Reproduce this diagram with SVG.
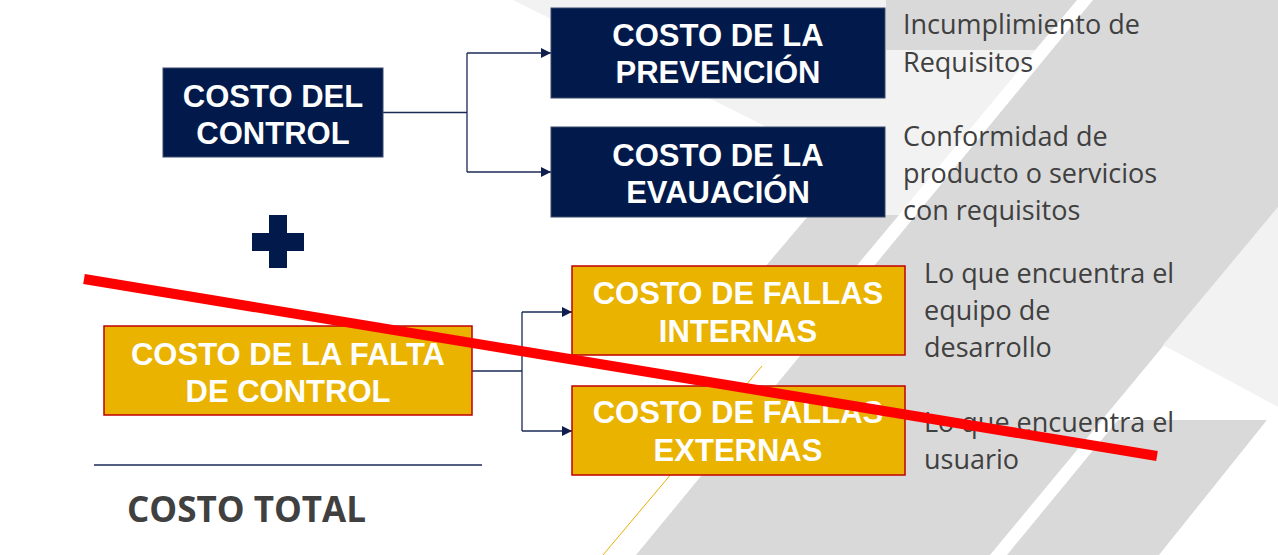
<svg xmlns="http://www.w3.org/2000/svg" width="1278" height="555" viewBox="0 0 1278 555">
<defs>
<style>
.bg-l{fill:#f2f2f2}
.bg-m{fill:#d9d9d9}
.navy{fill:#011a4b;stroke:#3b4a6b;stroke-width:1}
.gold{fill:#e9b300;stroke:#c00000;stroke-width:1.5}
.bt{font-family:"Liberation Sans",Arial,sans-serif;font-weight:bold;font-size:31px;fill:#ffffff;text-anchor:middle}
.desc{font-family:"Open Sans","Noto Sans",sans-serif;font-size:27px;fill:#404040}
.conn{fill:none;stroke:#1b2a57;stroke-width:1.3}
</style>
<marker id="arr" markerWidth="10" markerHeight="10" refX="10" refY="5" orient="auto" markerUnits="userSpaceOnUse">
<path d="M0,0 L10,5 L0,10 z" fill="#0f1f4d"/>
</marker>
</defs>
<rect x="0" y="0" width="1278" height="555" fill="#ffffff"/>
<g id="background">
<polygon class="bg-l" points="513,0 1077,0 897,217 884,217 884,186"/>
<polygon class="bg-m" points="886,0 1077,0 1035,50 886,50"/>
<polygon class="bg-m" points="809,215 899,215 828,300 737,300"/>
<polygon class="bg-m" points="1093,0 1450,0 990,555 636,555"/>
<polygon class="bg-l" points="1278,207 1163,345 1278,407"/>
<polygon class="bg-m" points="1118,420 1267,420 1159,555 1007,555"/>
<line x1="762" y1="366" x2="603" y2="555" stroke="#e8b000" stroke-width="1"/>
</g>
<g id="connectors">
<path class="conn" d="M383,112.5 H467 M467,53 V172"/>
<path class="conn" d="M467,53 H551" marker-end="url(#arr)"/>
<path class="conn" d="M467,172 H551" marker-end="url(#arr)"/>
<path class="conn" d="M472,371 H522 M522,312 V431"/>
<path class="conn" d="M522,312 H572" marker-end="url(#arr)"/>
<path class="conn" d="M522,431 H572" marker-end="url(#arr)"/>
</g>
<g id="costo-control">
<rect class="navy" x="163" y="68" width="220" height="89"/>
<text class="bt" x="273" y="107">COSTO DEL</text>
<text class="bt" x="273" y="144">CONTROL</text>
</g>
<g id="costo-prevencion">
<rect class="navy" x="551" y="8" width="334" height="90"/>
<text class="bt" x="718" y="46">COSTO DE LA</text>
<text class="bt" x="718" y="83">PREVENCIÓN</text>
</g>
<g id="costo-evaluacion">
<rect class="navy" x="551" y="127" width="334" height="90"/>
<text class="bt" x="718" y="166">COSTO DE LA</text>
<text class="bt" x="718" y="203">EVAUACIÓN</text>
</g>
<g id="plus">
<rect x="269" y="215" width="18" height="53" fill="#011a4b"/>
<rect x="252" y="233" width="52" height="18" fill="#011a4b"/>
</g>
<g id="costo-falta-control">
<rect class="gold" x="104" y="326" width="368" height="89"/>
<text class="bt" x="288" y="365">COSTO DE LA FALTA</text>
<text class="bt" x="288" y="402">DE CONTROL</text>
</g>
<g id="fallas-internas">
<rect class="gold" x="572" y="266" width="333" height="89"/>
<text class="bt" x="738" y="304">COSTO DE FALLAS</text>
<text class="bt" x="738" y="342">INTERNAS</text>
</g>
<g id="fallas-externas">
<rect class="gold" x="572" y="386" width="333" height="89"/>
<text class="bt" x="738" y="423">COSTO DE FALLAS</text>
<text class="bt" x="738" y="461">EXTERNAS</text>
</g>
<g id="desc-prevencion">
<text class="desc" x="903" y="34">Incumplimiento de</text>
<text class="desc" x="903" y="72">Requisitos</text>
</g>
<g id="desc-evaluacion">
<text class="desc" x="903" y="146">Conformidad de</text>
<text class="desc" x="903" y="183">producto o servicios</text>
<text class="desc" x="903" y="220">con requisitos</text>
</g>
<g id="desc-internas">
<text class="desc" x="924" y="283">Lo que encuentra el</text>
<text class="desc" x="924" y="320">equipo de</text>
<text class="desc" x="924" y="357">desarrollo</text>
</g>
<g id="desc-externas">
<text class="desc" x="924" y="432">Lo que encuentra el</text>
<text class="desc" x="924" y="469">usuario</text>
</g>
<g id="total">
<line x1="94" y1="465" x2="482" y2="465" stroke="#1b2a57" stroke-width="1.5"/>
<text x="127" y="522" font-family="Open Sans, Noto Sans, sans-serif" font-weight="bold" font-size="35" fill="#404040">COSTO TOTAL</text>
</g>
<g id="strike">
<line x1="84" y1="279" x2="1157" y2="456" stroke="#ff0000" stroke-width="10"/>
</g>
</svg>
